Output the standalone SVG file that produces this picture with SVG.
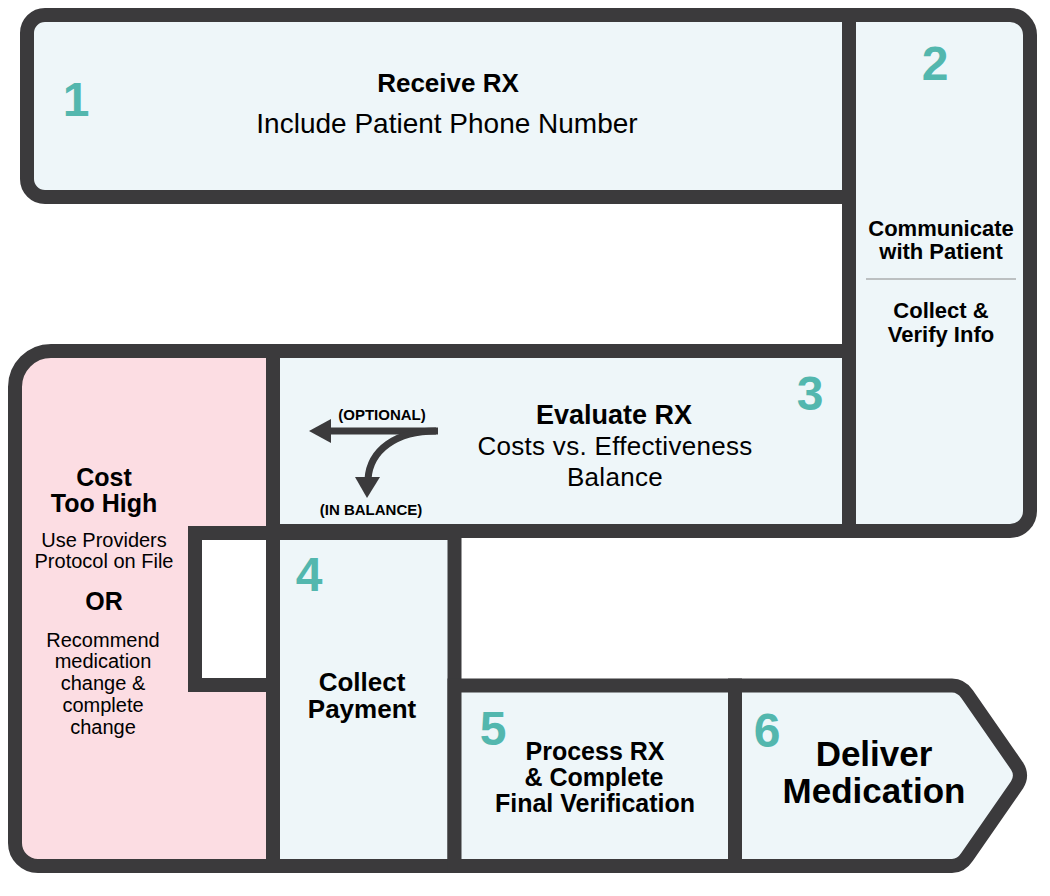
<svg xmlns="http://www.w3.org/2000/svg" width="1050" height="896" viewBox="0 0 1050 896">
<style>
.box{fill:#eef6f9;stroke:#3b3a3c;stroke-width:14;stroke-linejoin:miter}
.pink{fill:#fcdde3;stroke:#3b3a3c;stroke-width:14}
.num{font-family:"Liberation Sans",Arial,sans-serif;font-weight:bold;font-size:48px;fill:#53b7ae;text-anchor:middle}
.b{font-family:"Liberation Sans",Arial,sans-serif;font-weight:bold;fill:#000;text-anchor:middle}
.r{font-family:"Liberation Sans",Arial,sans-serif;fill:#000;text-anchor:middle}
.conn{fill:none;stroke:#3b3a3c;stroke-width:7}
.head{fill:#3b3a3c}
</style>
<rect width="1050" height="896" fill="#fff"/>

<g id="node-2">
  <path class="box" d="M849 15 H1010 A20 20 0 0 1 1030 35 V511 A20 20 0 0 1 1010 531 H849 Z"/>
  <text class="num" x="935" y="80">2</text>
  <text class="b" x="941" y="236" font-size="22">Communicate</text>
  <text class="b" x="941" y="259" font-size="22">with Patient</text>
  <line x1="866" y1="279" x2="1016" y2="279" stroke="#8a8a8a" stroke-width="1"/>
  <text class="b" x="941" y="318" font-size="22">Collect &amp;</text>
  <text class="b" x="941" y="342" font-size="22">Verify Info</text>
</g>

<g id="node-1">
  <path class="box" d="M849 15 V197 H45 A18 18 0 0 1 27 179 V33 A18 18 0 0 1 45 15 Z"/>
  <text class="num" x="76" y="116">1</text>
  <text class="b" x="448" y="92" font-size="26">Receive RX</text>
  <text class="r" x="447" y="133" font-size="28">Include Patient Phone Number</text>
</g>

<g id="node-3">
  <rect class="box" x="273" y="351" width="576" height="180"/>
  <text class="num" x="810" y="410">3</text>
  <text class="b" x="614" y="424" font-size="27">Evaluate RX</text>
  <text class="r" x="615" y="455" font-size="26" letter-spacing="0.3">Costs vs. Effectiveness</text>
  <text class="r" x="615" y="486" font-size="26" letter-spacing="0.3">Balance</text>
  <text class="b" x="382" y="420" font-size="15">(OPTIONAL)</text>
  <text class="b" x="371" y="515" font-size="15">(IN BALANCE)</text>
</g>

<g id="node-cost">
  <path class="pink" d="M273 351 H51 A36 36 0 0 0 15 387 V843 A23 23 0 0 0 38 866 H273 V685 H195 V533 H273 Z"/>
  <text class="b" x="104" y="486" font-size="25">Cost</text>
  <text class="b" x="104" y="512" font-size="25">Too High</text>
  <text class="r" x="104" y="547" font-size="20">Use Providers</text>
  <text class="r" x="104" y="568" font-size="20">Protocol on File</text>
  <text class="b" x="104" y="610" font-size="25">OR</text>
  <text class="r" x="103" y="647" font-size="20">Recommend</text>
  <text class="r" x="103" y="668" font-size="20">medication</text>
  <text class="r" x="103" y="690" font-size="20">change &amp;</text>
  <text class="r" x="103" y="712" font-size="20">complete</text>
  <text class="r" x="103" y="734" font-size="20">change</text>
</g>

<g id="node-4">
  <rect class="box" x="273" y="533" width="181.5" height="333"/>
  <text class="num" x="309" y="591">4</text>
  <text class="b" x="362" y="691" font-size="26">Collect</text>
  <text class="b" x="362" y="718" font-size="26">Payment</text>
</g>

<g id="node-5">
  <rect class="box" x="454.5" y="685.5" width="280.5" height="180.5"/>
  <text class="num" x="493" y="745">5</text>
  <text class="b" x="595" y="760" font-size="25">Process RX</text>
  <text class="b" x="594" y="786" font-size="25">&amp; Complete</text>
  <text class="b" x="595" y="812" font-size="25">Final Verification</text>
</g>

<g id="node-6">
  <path class="box" d="M735 685.5 H952 Q961 685.5 967 694 L1017 766 Q1023 775.5 1017 785 L967 857 Q961 866 952 866 H735 Z"/>
  <text class="num" x="767" y="747">6</text>
  <text class="b" x="874" y="766" font-size="35">Deliver</text>
  <text class="b" x="874" y="803" font-size="35">Medication</text>
</g>

<g id="connectors">
  <line class="conn" x1="438" y1="431" x2="328" y2="431"/>
  <polygon class="head" points="309,431 331,419 331,443"/>
  <path class="conn" d="M436 431 C396 431 370 450 368 479"/>
  <polygon class="head" points="367,498 355,477 380,477"/>
</g>
</svg>
